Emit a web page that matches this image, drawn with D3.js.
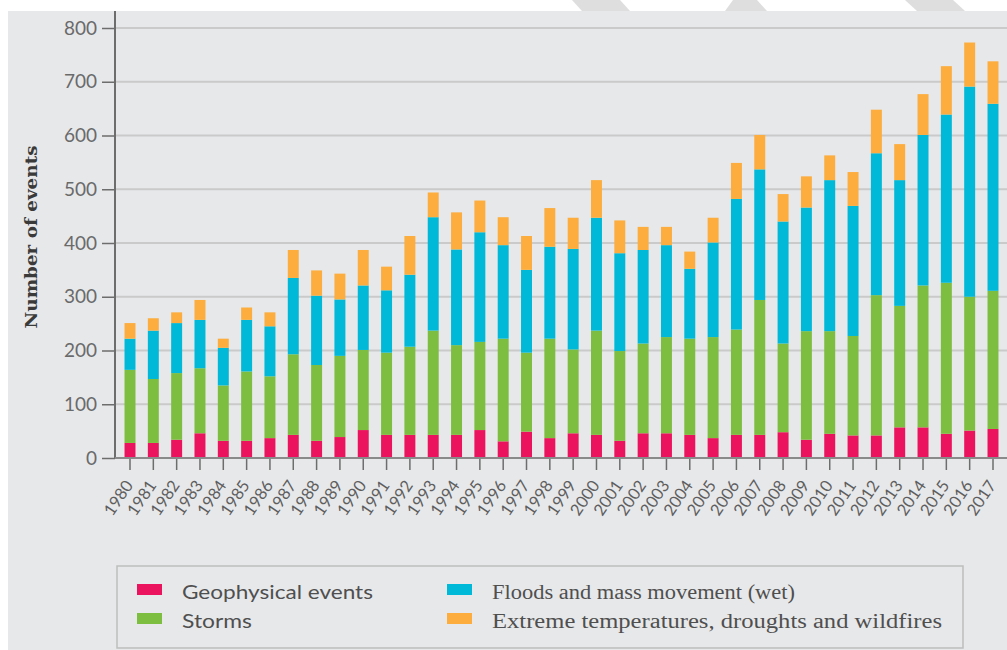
<!DOCTYPE html>
<html><head><meta charset="utf-8">
<script src="https://cdn.jsdelivr.net/npm/d3@7"></script>
<style>html,body{margin:0;padding:0;background:#fff;}svg{display:block;}</style>
</head><body>
<svg id="chart" width="1007" height="650"></svg>
<script>
const years = [1980,1981,1982,1983,1984,1985,1986,1987,1988,1989,1990,1991,1992,1993,1994,1995,1996,1997,1998,1999,2000,2001,2002,2003,2004,2005,2006,2007,2008,2009,2010,2011,2012,2013,2014,2015,2016,2017];
const geophysical = [28,28,34,46,32,32,37,43,32,39,52,43,43,43,43,52,31,49,37,46,43,32,46,46,43,37,43,43,48,34,45,42,42,57,57,45,51,54];
const storms = [136,119,124,121,103,129,115,150,141,151,149,153,164,194,167,164,191,147,185,156,194,167,167,179,179,188,196,251,165,202,191,185,261,226,264,281,249,257];
const floods = [58,90,93,90,70,96,93,142,129,105,120,116,134,211,178,204,174,154,171,187,210,182,174,171,130,176,243,243,227,230,281,242,264,234,280,313,391,348];
const extremes = [29,23,20,37,17,23,26,52,47,48,66,44,72,46,69,59,52,63,72,58,70,61,43,34,32,46,67,64,51,58,46,63,81,67,76,90,82,79];
const seriesNames = ["Geophysical events","Storms","Floods and mass movement (wet)","Extreme temperatures, droughts and wildfires"];
const seriesColors = ["#ec135e","#7dbe41","#00b9d8","#fcad3e"];
const yTicks = [0,100,200,300,400,500,600,700,800];

const svg = d3.select("#chart");
const W = 1007, H = 650;
const bg = "#e7e8ea";

// panel
svg.append("rect").attr("x",8).attr("y",11).attr("width",W-8).attr("height",H-11).attr("fill",bg);
// watermark stripe remnants at top
svg.append("polygon").attr("points","572,0 620,0 630,11 582,11").attr("fill","#dedede");
svg.append("polygon").attr("points","733,0 757,0 767,11 725,11").attr("fill","#dedede");
svg.append("polygon").attr("points","905,0 953,0 965,11 917,11").attr("fill","#dedede");

const y = d3.scaleLinear().domain([0,800]).range([458,28]);
const x = d3.scaleBand().domain(years).range([130-23.32/2, 993+23.32/2]).paddingInner(0.53).paddingOuter(0.265);

// gridlines
svg.append("g").selectAll("line").data(yTicks.filter(d=>d>0)).join("line")
  .attr("x1",115).attr("x2",W).attr("y1",d=>y(d)).attr("y2",d=>y(d))
  .attr("stroke","#cacaca").attr("stroke-width",2);

// stacked data
const table = years.map((yr,i)=>({year:yr, s0:geophysical[i], s1:storms[i], s2:floods[i], s3:extremes[i]}));
const stack = d3.stack().keys(["s0","s1","s2","s3"])(table);

svg.append("g").selectAll("g").data(stack).join("g")
  .attr("fill",(d,i)=>seriesColors[i])
  .selectAll("rect").data(d=>d).join("rect")
  .attr("x",d=>x(d.data.year)).attr("width",x.bandwidth())
  .attr("y",d=>y(d[1])).attr("height",d=>y(d[0])-y(d[1]));

// y axis
const yAxis = d3.axisLeft(y).tickValues(yTicks).tickSize(13).tickPadding(5);
const gy = svg.append("g").attr("transform","translate(115,0)").call(yAxis);
gy.select(".domain").remove();
gy.selectAll(".tick line").attr("stroke","#6d6d6d").attr("stroke-width",1.5);
gy.selectAll(".tick text").attr("fill","#6a6a6a").attr("font-family","Lato, sans-serif").attr("font-size",19);
svg.append("line").attr("x1",115).attr("x2",115).attr("y1",11).attr("y2",459).attr("stroke","#6d6d6d").attr("stroke-width",2);

// x axis
const xAxis = d3.axisBottom(x).tickSize(12).tickSizeOuter(0).tickFormat(d=>String(d));
const gx = svg.append("g").attr("transform","translate(0,458)").call(xAxis);
gx.select(".domain").remove();
gx.selectAll(".tick line").attr("stroke","#6d6d6d").attr("stroke-width",1.5);
gx.selectAll(".tick text").attr("fill","#5e5e5e").attr("font-family","Lato, sans-serif").attr("font-size",16.5)
  .attr("text-anchor","end").attr("dy","0.35em")
  .attr("transform","translate(-1,24) rotate(-56)").attr("y",0).attr("x",0);
svg.append("line").attr("x1",115).attr("x2",W).attr("y1",458).attr("y2",458).attr("stroke","#8a8a8a").attr("stroke-width",2);

// y title
svg.append("text").attr("transform","translate(37,237) rotate(-90)")
  .attr("text-anchor","middle").attr("font-family","'DejaVu Serif', serif").attr("font-weight","bold")
  .attr("font-size",16).attr("fill","#3a3a3a").attr("textLength",183).attr("lengthAdjust","spacingAndGlyphs")
  .text("Number of events");

// legend
svg.append("rect").attr("x",117).attr("y",566).attr("width",846).attr("height",82)
  .attr("fill","none").attr("stroke","#bdbdbd").attr("stroke-width",1.5);
const legendPos = [
  {sx:137, ty:599, tx:182, len:191, font:"Lato, sans-serif"},
  {sx:137, ty:628, tx:182, len:70, font:"Lato, sans-serif"},
  {sx:447, ty:599, tx:492, len:303, font:"'Liberation Serif', serif"},
  {sx:447, ty:628, tx:492, len:450, font:"'Liberation Serif', serif"}
];
const lg = svg.append("g");
seriesNames.forEach((name,i)=>{
  const p = legendPos[i];
  lg.append("rect").attr("x",p.sx).attr("y",p.ty-15).attr("width",25).attr("height",11).attr("fill",seriesColors[i]);
  lg.append("text").attr("x",p.tx).attr("y",p.ty).attr("font-family",p.font).attr("font-size",20)
    .attr("fill","#4f4f4f").attr("textLength",p.len).attr("lengthAdjust","spacingAndGlyphs").text(name);
});
</script>
</body></html>
